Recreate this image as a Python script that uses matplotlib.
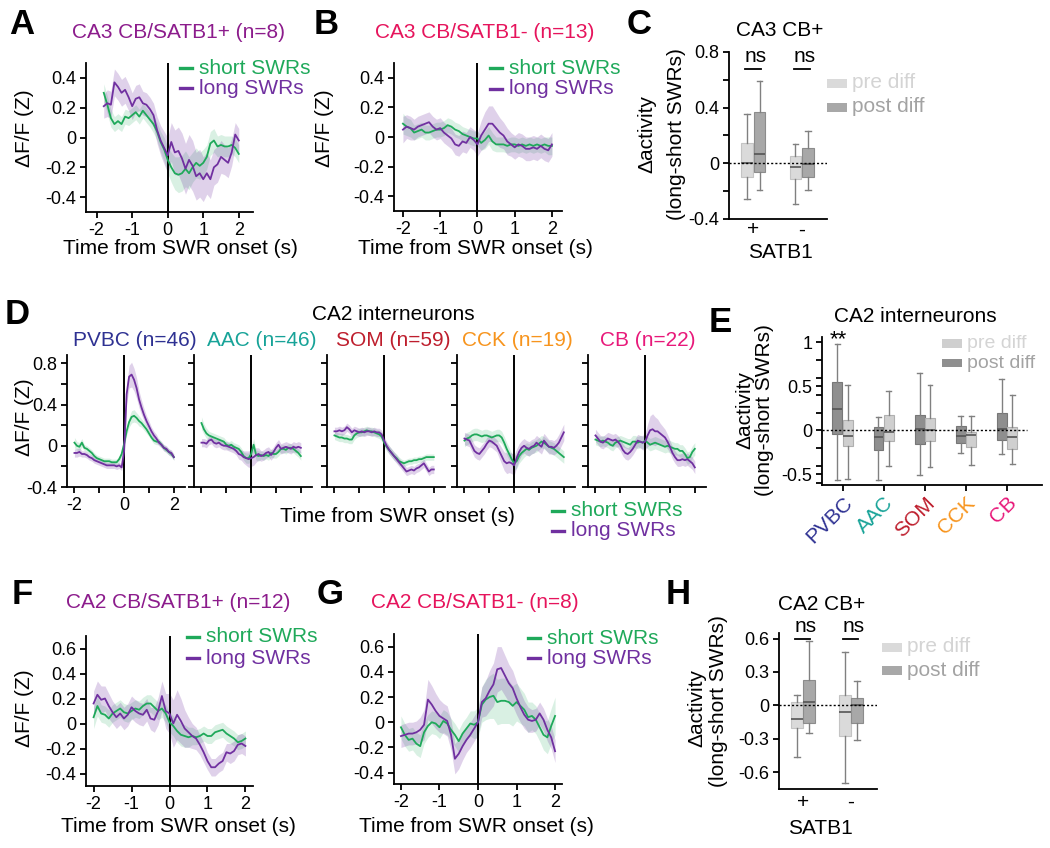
import numpy as np
import matplotlib
matplotlib.use('Agg')
import matplotlib.pyplot as plt
from matplotlib.lines import Line2D
from matplotlib.patches import Rectangle

plt.rcParams['font.family'] = ['Liberation Sans', 'DejaVu Sans']
plt.rcParams['axes.unicode_minus'] = False

GREEN = '#1fa95a'
PURPLE = '#7030a0'
TITLE_PLUS = '#8c1c8c'
TITLE_MINUS = '#e6145c'

# ---------------- data ----------------
tA = np.linspace(-1.8, 2.0, 39)
t41 = np.linspace(-2.0, 2.0, 41)

# A: CA3 CB/SATB1+
A_short = [0.30, 0.22, 0.13, 0.09, 0.11, 0.09, 0.14, 0.13, 0.15, 0.17,
           0.14, 0.18, 0.15, 0.12, 0.09, 0.04, -0.03, -0.08, -0.15, -0.20,
           -0.24, -0.25, -0.24, -0.21, -0.24, -0.20, -0.17, -0.19, -0.17, -0.13,
           -0.04, -0.02, -0.06, -0.05, -0.06, -0.06, -0.05, -0.07, -0.11]
A_long = [0.21, 0.23, 0.22, 0.37, 0.34, 0.30, 0.32, 0.27, 0.21, 0.26,
          0.27, 0.23, 0.22, 0.19, 0.15, 0.05, -0.02, -0.07, -0.12, -0.03,
          -0.10, -0.09, -0.14, -0.21, -0.15, -0.19, -0.26, -0.24, -0.28, -0.24,
          -0.28, -0.20, -0.18, -0.13, -0.15, -0.17, -0.10, 0.02, -0.02]
A_short_sem = [0.06, 0.06, 0.06, 0.05, 0.05, 0.05, 0.05, 0.05, 0.05, 0.05,
               0.05, 0.05, 0.05, 0.05, 0.06, 0.06, 0.07, 0.08, 0.09, 0.10,
               0.11, 0.12, 0.12, 0.12, 0.11, 0.10, 0.10, 0.09, 0.09, 0.08,
               0.08, 0.08, 0.07, 0.07, 0.07, 0.07, 0.06, 0.06, 0.06]
A_long_sem = [0.08, 0.09, 0.09, 0.09, 0.09, 0.09, 0.09, 0.09, 0.09, 0.09,
              0.09, 0.08, 0.08, 0.08, 0.08, 0.09, 0.10, 0.11, 0.12, 0.13,
              0.15, 0.16, 0.17, 0.17, 0.17, 0.17, 0.16, 0.16, 0.15, 0.14,
              0.13, 0.12, 0.12, 0.11, 0.10, 0.10, 0.09, 0.08, 0.08]

# B: CA3 CB/SATB1-
B_short = [0.09, 0.07, 0.06, 0.03, 0.04, 0.05, 0.03, 0.03, 0.04, 0.05,
           0.05, 0.06, 0.08, 0.07, 0.05, 0.04, 0.02, 0.01, 0.00, -0.01,
           -0.01, -0.04, -0.02, 0.01, -0.03, -0.05, -0.05, -0.05, -0.06, -0.05,
           -0.05, -0.06, -0.05, -0.06, -0.05, -0.06, -0.05, -0.06, -0.05, -0.06,
           -0.06]
B_long = [0.05, 0.07, 0.06, 0.05, 0.07, 0.08, 0.09, 0.10, 0.07, 0.05,
          0.06, 0.03, 0.01, -0.01, -0.05, -0.06, -0.03, -0.04, 0.00, -0.02,
          -0.05, 0.01, 0.05, 0.09, 0.09, 0.06, 0.03, 0.01, -0.03, -0.05,
          -0.07, -0.05, -0.06, -0.08, -0.08, -0.07, -0.08, -0.06, -0.08, -0.09,
          -0.05]
B_short_sem = [0.07, 0.06, 0.06, 0.05, 0.05, 0.05, 0.05, 0.05, 0.05, 0.05,
               0.05, 0.05, 0.05, 0.05, 0.05, 0.05, 0.05, 0.05, 0.05, 0.05,
               0.05, 0.05, 0.06, 0.06, 0.06, 0.05, 0.05, 0.05, 0.05, 0.05,
               0.05, 0.05, 0.05, 0.05, 0.05, 0.05, 0.05, 0.05, 0.05, 0.06,
               0.06]
B_long_sem = [0.09, 0.08, 0.08, 0.07, 0.07, 0.07, 0.07, 0.07, 0.07, 0.07,
              0.07, 0.07, 0.07, 0.07, 0.07, 0.07, 0.07, 0.07, 0.07, 0.07,
              0.08, 0.10, 0.12, 0.12, 0.12, 0.11, 0.10, 0.09, 0.09, 0.08,
              0.08, 0.08, 0.08, 0.08, 0.08, 0.08, 0.08, 0.08, 0.08, 0.08,
              0.08]

# C: CA3 CB+ box stats (SATB1 + / -)
C_groups = ['+', '-']
C_pre_med = [0.00, -0.025]
C_pre_q1 = [-0.10, -0.115]
C_pre_q3 = [0.145, 0.055]
C_pre_lo = [-0.255, -0.29]
C_pre_hi = [0.355, 0.14]
C_post_med = [0.065, -0.005]
C_post_q1 = [-0.065, -0.10]
C_post_q3 = [0.37, 0.11]
C_post_lo = [-0.19, -0.19]
C_post_hi = [0.595, 0.23]

# D: CA2 interneuron types
D_names = ['PVBC', 'AAC', 'SOM', 'CCK', 'CB']
D_counts = [46, 46, 59, 19, 22]
D_colors = ['#2e3192', '#17a398', '#be1e2d', '#f7941d', '#e8197a']

PVBC_short = [0.03, 0.00, -0.01, 0.03, -0.02, -0.03, -0.05, -0.07, -0.10, -0.12,
              -0.13, -0.14, -0.15, -0.15, -0.15, -0.16, -0.16, -0.16, -0.13, -0.08,
              0.02, 0.14, 0.23, 0.28, 0.29, 0.27, 0.24, 0.22, 0.19, 0.16,
              0.12, 0.08, 0.05, 0.04, 0.04, 0.01, -0.02, -0.04, -0.06, -0.08,
              -0.11]
PVBC_long = [-0.07, -0.07, -0.06, -0.08, -0.08, -0.09, -0.11, -0.12, -0.14, -0.15,
             -0.16, -0.17, -0.18, -0.19, -0.19, -0.19, -0.19, -0.20, -0.19, -0.21,
             -0.05, 0.50, 0.67, 0.69, 0.64, 0.56, 0.45, 0.37, 0.30, 0.24,
             0.19, 0.14, 0.10, 0.07, 0.03, 0.01, -0.02, -0.03, -0.06, -0.07,
             -0.11]
PVBC_short_sem = [0.05, 0.04, 0.04, 0.04, 0.03, 0.03, 0.03, 0.03, 0.03, 0.03,
                  0.03, 0.03, 0.03, 0.03, 0.03, 0.03, 0.03, 0.03, 0.03, 0.03,
                  0.03, 0.04, 0.05, 0.06, 0.06, 0.05, 0.05, 0.04, 0.04, 0.04,
                  0.03, 0.03, 0.03, 0.03, 0.03, 0.03, 0.03, 0.03, 0.03, 0.03,
                  0.03]
PVBC_long_sem = [0.04, 0.04, 0.04, 0.03, 0.03, 0.03, 0.03, 0.03, 0.03, 0.03,
                 0.03, 0.03, 0.03, 0.03, 0.03, 0.03, 0.03, 0.03, 0.03, 0.03,
                 0.04, 0.09, 0.11, 0.12, 0.11, 0.10, 0.08, 0.07, 0.06, 0.05,
                 0.05, 0.04, 0.04, 0.04, 0.03, 0.03, 0.03, 0.03, 0.03, 0.03,
                 0.03]

AAC_short = [0.22, 0.16, 0.12, 0.10, 0.09, 0.08, 0.07, 0.06, 0.05, 0.04,
             0.01, 0.00, 0.01, -0.01, -0.02, -0.03, -0.06, -0.10, -0.12, -0.12,
             -0.08, 0.01, -0.09, -0.10, -0.09, -0.10, -0.09, -0.10, -0.07, -0.08,
             -0.08, -0.06, -0.03, -0.03, -0.04, -0.02, -0.02, -0.03, -0.05, -0.07,
             -0.10]
AAC_long = [0.03, 0.03, 0.02, 0.05, 0.06, 0.03, 0.02, 0.03, 0.01, 0.00,
            0.00, -0.01, -0.02, -0.03, -0.05, -0.08, -0.09, -0.11, -0.12, -0.13,
            -0.12, -0.11, -0.09, -0.08, -0.10, -0.09, -0.07, -0.06, -0.09, -0.06,
            -0.02, 0.01, -0.03, -0.02, -0.01, -0.02, -0.03, -0.01, -0.02, -0.01,
            -0.02]
AAC_short_sem = [0.06, 0.05, 0.05, 0.04, 0.04, 0.04, 0.04, 0.04, 0.04, 0.04,
                 0.04, 0.04, 0.04, 0.04, 0.04, 0.04, 0.04, 0.04, 0.05, 0.05,
                 0.06, 0.06, 0.05, 0.05, 0.04, 0.04, 0.04, 0.04, 0.04, 0.04,
                 0.04, 0.04, 0.04, 0.04, 0.04, 0.04, 0.04, 0.04, 0.04, 0.04,
                 0.04]
AAC_long_sem = [0.04, 0.04, 0.04, 0.04, 0.04, 0.04, 0.04, 0.04, 0.04, 0.04,
                0.04, 0.04, 0.04, 0.04, 0.04, 0.05, 0.05, 0.06, 0.07, 0.08,
                0.08, 0.08, 0.07, 0.06, 0.05, 0.05, 0.05, 0.05, 0.05, 0.05,
                0.05, 0.05, 0.05, 0.05, 0.05, 0.05, 0.05, 0.05, 0.05, 0.05,
                0.05]

SOM_short = [0.10, 0.09, 0.08, 0.08, 0.07, 0.07, 0.06, 0.06, 0.10, 0.12,
             0.13, 0.13, 0.14, 0.15, 0.14, 0.14, 0.13, 0.12, 0.11, 0.09,
             0.03, -0.01, -0.04, -0.07, -0.10, -0.12, -0.15, -0.16, -0.17, -0.16,
             -0.15, -0.15, -0.14, -0.14, -0.13, -0.13, -0.12, -0.11, -0.11, -0.11,
             -0.11]
SOM_long = [0.14, 0.14, 0.15, 0.14, 0.15, 0.18, 0.16, 0.13, 0.15, 0.14,
            0.13, 0.14, 0.13, 0.14, 0.14, 0.13, 0.14, 0.13, 0.13, 0.11,
            0.05, 0.00, -0.04, -0.07, -0.10, -0.13, -0.16, -0.19, -0.22, -0.25,
            -0.24, -0.23, -0.24, -0.22, -0.21, -0.19, -0.17, -0.21, -0.25, -0.23,
            -0.23]
SOM_short_sem = [0.04, 0.04, 0.04, 0.04, 0.04, 0.04, 0.04, 0.04, 0.04, 0.04,
                 0.04, 0.04, 0.04, 0.04, 0.04, 0.04, 0.04, 0.04, 0.04, 0.04,
                 0.04, 0.04, 0.04, 0.04, 0.04, 0.04, 0.04, 0.03, 0.03, 0.03,
                 0.03, 0.03, 0.03, 0.03, 0.03, 0.03, 0.03, 0.03, 0.03, 0.03,
                 0.03]
SOM_long_sem = [0.04, 0.04, 0.04, 0.04, 0.04, 0.04, 0.04, 0.04, 0.04, 0.04,
                0.04, 0.04, 0.04, 0.04, 0.04, 0.04, 0.04, 0.04, 0.04, 0.04,
                0.04, 0.04, 0.04, 0.04, 0.04, 0.04, 0.04, 0.04, 0.04, 0.04,
                0.04, 0.04, 0.04, 0.04, 0.04, 0.04, 0.04, 0.04, 0.04, 0.04,
                0.04]

CCK_short = [0.05, 0.07, 0.08, 0.10, 0.11, 0.11, 0.10, 0.09, 0.10, 0.10,
             0.09, 0.08, 0.09, 0.10, 0.10, 0.08, 0.03, -0.03, -0.08, -0.13,
             -0.17, -0.15, -0.10, -0.07, -0.05, -0.03, -0.04, -0.02, -0.01, 0.00,
             0.02, 0.04, 0.03, 0.01, -0.01, -0.02, -0.03, -0.05, -0.07, -0.09,
             -0.11]
CCK_long = [0.07, 0.06, 0.05, 0.00, -0.05, -0.07, -0.08, -0.05, -0.02, 0.02,
            0.05, 0.04, 0.02, 0.00, -0.05, -0.10, -0.15, -0.17, -0.16, -0.17,
            -0.19, -0.12, -0.06, -0.02, 0.00, -0.02, -0.03, -0.01, 0.00, 0.03,
            0.01, -0.01, 0.05, 0.02, -0.01, -0.01, -0.02, 0.00, 0.03, 0.08,
            0.13]
CCK_short_sem = [0.06, 0.06, 0.06, 0.06, 0.06, 0.06, 0.06, 0.06, 0.06, 0.06,
                 0.06, 0.06, 0.06, 0.06, 0.06, 0.06, 0.06, 0.06, 0.06, 0.06,
                 0.07, 0.07, 0.07, 0.07, 0.06, 0.06, 0.06, 0.06, 0.06, 0.06,
                 0.06, 0.06, 0.06, 0.06, 0.06, 0.06, 0.06, 0.06, 0.06, 0.06,
                 0.06]
CCK_long_sem = [0.06, 0.06, 0.06, 0.06, 0.06, 0.06, 0.06, 0.06, 0.06, 0.06,
                0.06, 0.06, 0.06, 0.06, 0.07, 0.08, 0.09, 0.10, 0.10, 0.10,
                0.10, 0.09, 0.08, 0.07, 0.07, 0.07, 0.07, 0.07, 0.07, 0.07,
                0.07, 0.07, 0.07, 0.07, 0.07, 0.07, 0.07, 0.07, 0.08, 0.08,
                0.08]

CB_short = [0.06, 0.05, 0.04, 0.05, 0.04, 0.03, 0.01, 0.00, 0.03, 0.04,
            0.05, 0.04, 0.03, 0.02, 0.01, 0.04, 0.04, 0.03, 0.04, 0.03,
            0.05, 0.03, 0.01, 0.02, 0.03, 0.02, 0.01, 0.00, -0.01, 0.00,
            -0.01, -0.02, -0.03, -0.03, -0.05, -0.05, -0.08, -0.12, -0.11, -0.06,
            -0.03]
CB_long = [0.10, 0.07, 0.04, 0.03, 0.05, 0.07, 0.06, 0.05, 0.06, 0.04,
           0.01, -0.04, -0.07, -0.08, -0.06, -0.03, 0.01, 0.05, 0.04, 0.03,
           0.04, 0.10, 0.15, 0.16, 0.14, 0.14, 0.12, 0.10, 0.08, 0.04,
           -0.01, -0.07, -0.11, -0.14, -0.14, -0.13, -0.14, -0.13, -0.15, -0.17,
           -0.21]
CB_short_sem = [0.05, 0.05, 0.05, 0.05, 0.05, 0.05, 0.05, 0.05, 0.05, 0.05,
                0.05, 0.05, 0.05, 0.05, 0.06, 0.06, 0.06, 0.06, 0.06, 0.06,
                0.06, 0.06, 0.06, 0.06, 0.06, 0.06, 0.06, 0.06, 0.06, 0.06,
                0.06, 0.06, 0.06, 0.06, 0.06, 0.06, 0.06, 0.06, 0.06, 0.06,
                0.06]
CB_long_sem = [0.06, 0.06, 0.06, 0.06, 0.06, 0.06, 0.06, 0.06, 0.06, 0.06,
               0.06, 0.06, 0.06, 0.06, 0.06, 0.06, 0.06, 0.06, 0.06, 0.07,
               0.08, 0.11, 0.14, 0.15, 0.14, 0.12, 0.10, 0.09, 0.08, 0.07,
               0.06, 0.06, 0.06, 0.06, 0.06, 0.06, 0.06, 0.06, 0.06, 0.06,
               0.06]

# E: CA2 interneurons box stats (post diff first, pre diff second)
E_post_med = [0.24, -0.07, 0.015, -0.065, 0.015]
E_post_q1 = [-0.04, -0.22, -0.155, -0.143, -0.113]
E_post_q3 = [0.55, 0.035, 0.18, 0.053, 0.196]
E_post_lo = [-0.56, -0.56, -0.51, -0.26, -0.265]
E_post_hi = [0.98, 0.15, 0.65, 0.16, 0.585]
E_pre_med = [-0.065, -0.02, 0.01, -0.053, -0.075]
E_pre_q1 = [-0.18, -0.125, -0.125, -0.19, -0.21]
E_pre_q3 = [0.12, 0.18, 0.14, -0.02, 0.04]
E_pre_lo = [-0.55, -0.40, -0.415, -0.39, -0.38]
E_pre_hi = [0.51, 0.45, 0.51, 0.16, 0.40]

# F: CA2 CB/SATB1+
F_short = [0.05, 0.14, 0.08, 0.07, 0.04, 0.08, 0.10, 0.12, 0.09, 0.08,
           0.10, 0.12, 0.11, 0.14, 0.16, 0.16, 0.13, 0.10, 0.12, 0.08,
           0.01, -0.02, -0.06, -0.09, -0.10, -0.11, -0.10, -0.11, -0.10, -0.08,
           -0.10, -0.10, -0.07, -0.06, -0.05, -0.08, -0.10, -0.12, -0.15, -0.14,
           -0.12]
F_long = [0.16, 0.23, 0.19, 0.20, 0.14, 0.09, 0.05, 0.08, 0.04, 0.07,
          0.13, 0.10, 0.08, 0.07, 0.11, 0.04, 0.03, 0.10, 0.22, 0.10,
          0.08, 0.00, 0.07, 0.02, -0.04, -0.07, -0.10, -0.12, -0.17, -0.23,
          -0.30, -0.35, -0.35, -0.32, -0.30, -0.23, -0.24, -0.22, -0.17, -0.16,
          -0.18]
F_short_sem = [0.09, 0.08, 0.07, 0.07, 0.07, 0.07, 0.07, 0.07, 0.07, 0.07,
               0.07, 0.07, 0.07, 0.07, 0.07, 0.07, 0.07, 0.07, 0.07, 0.07,
               0.08, 0.08, 0.09, 0.09, 0.09, 0.08, 0.07, 0.06, 0.06, 0.06,
               0.06, 0.06, 0.06, 0.06, 0.06, 0.06, 0.06, 0.06, 0.06, 0.06,
               0.06]
F_long_sem = [0.10, 0.11, 0.11, 0.10, 0.10, 0.09, 0.09, 0.09, 0.09, 0.09,
              0.09, 0.09, 0.09, 0.09, 0.09, 0.09, 0.10, 0.11, 0.12, 0.14,
              0.16, 0.19, 0.20, 0.18, 0.15, 0.12, 0.10, 0.09, 0.08, 0.08,
              0.07, 0.07, 0.07, 0.07, 0.07, 0.07, 0.08, 0.08, 0.08, 0.08,
              0.08]

# G: CA2 CB/SATB1-
G_short = [-0.04, -0.10, -0.14, -0.13, -0.17, -0.19, -0.08, -0.03, 0.00, -0.01,
           -0.04, 0.01, -0.01, -0.06, -0.10, -0.15, -0.09, -0.05, -0.01, -0.02,
           0.00, 0.14, 0.18, 0.20, 0.21, 0.16, 0.17, 0.17, 0.16, 0.13,
           0.16, 0.13, 0.10, 0.04, 0.05, 0.02, -0.04, -0.10, -0.12, -0.03,
           0.05]
G_long = [-0.11, -0.10, -0.09, -0.09, -0.08, -0.06, -0.02, 0.18, 0.14, 0.09,
          0.05, 0.03, 0.01, -0.10, -0.29, -0.25, -0.19, -0.14, -0.10, -0.05,
          0.00, 0.16, 0.19, 0.25, 0.30, 0.42, 0.43, 0.37, 0.31, 0.27,
          0.19, 0.12, 0.06, 0.02, 0.01, 0.02, 0.07, 0.02, -0.06, -0.12,
          -0.23]
G_short_sem = [0.09, 0.09, 0.09, 0.09, 0.09, 0.09, 0.09, 0.09, 0.09, 0.09,
               0.09, 0.09, 0.09, 0.09, 0.09, 0.09, 0.09, 0.09, 0.10, 0.11,
               0.12, 0.14, 0.16, 0.17, 0.18, 0.18, 0.18, 0.18, 0.17, 0.16,
               0.15, 0.14, 0.13, 0.12, 0.11, 0.11, 0.11, 0.12, 0.13, 0.14,
               0.15]
G_long_sem = [0.09, 0.09, 0.09, 0.09, 0.09, 0.10, 0.12, 0.16, 0.15, 0.14,
              0.13, 0.12, 0.12, 0.12, 0.12, 0.12, 0.11, 0.10, 0.10, 0.10,
              0.10, 0.12, 0.14, 0.16, 0.17, 0.18, 0.17, 0.16, 0.15, 0.14,
              0.13, 0.12, 0.11, 0.10, 0.09, 0.09, 0.09, 0.09, 0.09, 0.09,
              0.09]

# H: CA2 CB+ box stats (SATB1 + / -)
H_groups = ['+', '-']
H_pre_med = [-0.12, -0.055]
H_pre_q1 = [-0.205, -0.27]
H_pre_q3 = [0.03, 0.09]
H_pre_lo = [-0.46, -0.70]
H_pre_hi = [0.09, 0.48]
H_post_med = [0.034, 0.0]
H_post_q1 = [-0.16, -0.155]
H_post_q3 = [0.23, 0.07]
H_post_lo = [-0.245, -0.31]
H_post_hi = [0.58, 0.22]

# ---------------- helpers ----------------
W, H = 1050, 848
fig = plt.figure(figsize=(W / 100, H / 100), dpi=100)


def px_axes(l, t, r, b):
    return fig.add_axes([l / W, 1 - b / H, (r - l) / W, (b - t) / H])


def ftext(x, y, s, **kw):
    kw.setdefault('ha', 'center')
    kw.setdefault('va', 'center')
    return fig.text(x / W, 1 - y / H, s, **kw)


def style(ax):
    for s in ['top', 'right']:
        ax.spines[s].set_visible(False)
    for s in ['left', 'bottom']:
        ax.spines[s].set_linewidth(1.3)
    ax.tick_params(which='both', direction='out', length=4, width=1.3,
                   labelsize=13, pad=3)


def traces(ax, t, s, s_sem, l, l_sem):
    s, s_sem, l, l_sem = map(np.asarray, (s, s_sem, l, l_sem))
    ax.fill_between(t, s - s_sem, s + s_sem, color=GREEN, alpha=0.17, lw=0)
    ax.fill_between(t, l - l_sem, l + l_sem, color=PURPLE, alpha=0.22, lw=0)
    ax.axvline(0, color='black', lw=1.4, zorder=2)
    ax.plot(t, s, color=GREEN, lw=1.3, zorder=3)
    ax.plot(t, l, color=PURPLE, lw=1.3, zorder=3)


def swr_key(x, y, dy):
    for i, (lab, col) in enumerate([('short SWRs', GREEN), ('long SWRs', PURPLE)]):
        yy = 1 - (y + i * dy) / H
        fig.add_artist(Line2D([x / W, (x + 12) / W], [yy, yy], color=col, lw=2.4))
        fig.text((x + 19) / W, yy, lab, color=col, fontsize=15, ha='left', va='center')


def diff_key(x, y_pre, y_post, light, dark, size=15):
    for yy, lab, face, tcol in [(y_pre, 'pre diff', light, '#d4d4d4'),
                                (y_post, 'post diff', dark, '#a3a3a3')]:
        fig.add_artist(Rectangle((x / W, 1 - (yy + 4.5) / H), 20 / W, 9 / H,
                                 facecolor=face, edgecolor='none'))
        fig.text((x + 25) / W, 1 - yy / H, lab, color=tcol, fontsize=size,
                 ha='left', va='center')


def boxes(ax, pos, med, q1, q3, lo, hi, face, edge, width):
    stats = [dict(med=m, q1=a, q3=b, whislo=c, whishi=d)
             for m, a, b, c, d in zip(med, q1, q3, lo, hi)]
    ax.bxp(stats, positions=pos, widths=width, patch_artist=True,
           showfliers=False, manage_ticks=False,
           boxprops=dict(facecolor=face, edgecolor=edge, lw=0.8),
           whiskerprops=dict(color='#808080', lw=1.0),
           capprops=dict(color='#808080', lw=1.0),
           medianprops=dict(color='#555555', lw=1.2))


def panel_letter(x, y, s):
    ftext(x, y, s, fontsize=25, fontweight='bold', ha='left')


LIGHT_C, DARK_C = '#dadada', '#a8a8a8'
LIGHT_E, DARK_E = '#cfcfcf', '#8f8f8f'

# ---------------- A ----------------
axA = px_axes(86, 63, 253, 212)
traces(axA, tA, A_short, A_short_sem, A_long, A_long_sem)
axA.set_xlim(-2.3, 2.4)
axA.set_ylim(-0.5, 0.5)
axA.set_xticks([-2, -1, 0, 1, 2], ['-2', '-1', '0', '1', '2'])
axA.set_yticks([-0.4, -0.2, 0, 0.2, 0.4], ['-0.4', '-0.2', '0', '0.2', '0.4'])
style(axA)
ftext(178, 33, 'CA3 CB/SATB1+ (n=8)', color=TITLE_PLUS, fontsize=15)
ftext(25, 128, 'ΔF/F (Z)', rotation=90, fontsize=15)
ftext(180, 248, 'Time from SWR onset (s)', fontsize=15)
swr_key(180, 68, 20)
panel_letter(9, 25, 'A')

# ---------------- B ----------------
axB = px_axes(394, 63, 562, 211)
traces(axB, t41, B_short, B_short_sem, B_long, B_long_sem)
axB.set_xlim(-2.24, 2.27)
axB.set_ylim(-0.5, 0.5)
axB.set_xticks([-2, -1, 0, 1, 2], ['-2', '-1', '0', '1', '2'])
axB.set_yticks([-0.4, -0.2, 0, 0.2, 0.4], ['-0.4', '-0.2', '0', '0.2', '0.4'])
style(axB)
ftext(485, 33, 'CA3 CB/SATB1- (n=13)', color=TITLE_MINUS, fontsize=15)
ftext(325, 128, 'ΔF/F (Z)', rotation=90, fontsize=15)
ftext(475, 248, 'Time from SWR onset (s)', fontsize=15)
swr_key(490, 68, 21)
panel_letter(314, 25, 'B')

# ---------------- C ----------------
axC = px_axes(729, 52, 827, 219)
gC = np.arange(1, len(C_groups) + 1)
axC.axhline(0, color='black', lw=1.0, ls=(0, (1.5, 1.5)), zorder=3)
boxes(axC, gC - 0.13, C_pre_med, C_pre_q1, C_pre_q3, C_pre_lo, C_pre_hi,
      LIGHT_C, '#c4c4c4', 0.24)
boxes(axC, gC + 0.13, C_post_med, C_post_q1, C_post_q3, C_post_lo, C_post_hi,
      DARK_C, '#8c8c8c', 0.24)
axC.set_xlim(0.5, 2.52)
axC.set_ylim(-0.4, 0.8)
axC.set_yticks([-0.4, 0, 0.4, 0.8], ['-0.4', '0', '0.4', '0.8'])
axC.set_yticks([-0.2, 0.2, 0.6], minor=True)
axC.set_xticks(gC, C_groups)
style(axC)
axC.tick_params(axis='x', length=0, labelsize=15, pad=1)
for g in gC:
    axC.plot([g - 0.16, g + 0.16], [0.68, 0.68], color='black', lw=1.3, clip_on=False)
    axC.text(g + 0.05, 0.70, 'ns', ha='center', va='bottom', fontsize=15)
ftext(780, 30, 'CA3 CB+', fontsize=15)
ftext(780, 252, 'SATB1', fontsize=15)
ftext(647, 134, 'Δactivity', rotation=90, fontsize=15)
ftext(677, 134, '(long-short SWRs)', rotation=90, fontsize=15)
diff_key(827, 83, 107, LIGHT_C, DARK_C)
panel_letter(627, 25, 'C')

# ---------------- D ----------------
D_short = [PVBC_short, AAC_short, SOM_short, CCK_short, CB_short]
D_long = [PVBC_long, AAC_long, SOM_long, CCK_long, CB_long]
D_short_sem = [PVBC_short_sem, AAC_short_sem, SOM_short_sem, CCK_short_sem, CB_short_sem]
D_long_sem = [PVBC_long_sem, AAC_long_sem, SOM_long_sem, CCK_long_sem, CB_long_sem]
D_left = [67, 194, 327, 457, 588]
D_title_x = [135, 262, 393, 517, 648]
for i in range(len(D_names)):
    ax = px_axes(D_left[i], 355, D_left[i] + 118, 487)
    traces(ax, t41, D_short[i], D_short_sem[i], D_long[i], D_long_sem[i])
    ax.set_xlim(-2.3, 2.45)
    ax.set_ylim(-0.4, 0.88)
    ax.set_xticks([-2, -1, 0, 1, 2], ['-2', '', '0', '', '2'])
    ax.set_yticks([-0.4, 0, 0.4, 0.8], ['-0.4', '0', '0.4', '0.8'])
    ax.set_yticks([-0.2, 0.2, 0.6], minor=True)
    style(ax)
    if i > 0:
        ax.tick_params(labelleft=False, labelbottom=False)
    ftext(D_title_x[i], 340, f'{D_names[i]} (n={D_counts[i]})',
          color=D_colors[i], fontsize=15)
ftext(393, 315, 'CA2 interneurons', fontsize=15)
ftext(25, 417, 'ΔF/F (Z)', rotation=90, fontsize=15)
ftext(397, 517, 'Time from SWR onset (s)', fontsize=15)
swr_key(552, 511, 20)
panel_letter(5, 315, 'D')

# ---------------- E ----------------
axE = px_axes(822, 337, 1042, 485)
gE = np.arange(1, len(D_names) + 1)
axE.axhline(0, color='black', lw=1.0, ls=(0, (1.5, 1.5)), xmax=0.93, zorder=3)
boxes(axE, gE - 0.127, E_post_med, E_post_q1, E_post_q3, E_post_lo, E_post_hi,
      DARK_E, '#777777', 0.24)
boxes(axE, gE + 0.127, E_pre_med, E_pre_q1, E_pre_q3, E_pre_lo, E_pre_hi,
      LIGHT_E, '#b0b0b0', 0.24)
axE.set_xlim(0.5, 5.85)
axE.set_ylim(-0.62, 1.06)
axE.set_yticks([-0.5, 0, 0.5, 1], ['-0.5', '0', '0.5', '1'])
axE.set_yticks([-0.6, -0.4, -0.2, 0.2, 0.4, 0.6, 0.8], minor=True)
axE.set_xticks(gE, D_names)
style(axE)
axE.tick_params(axis='x', labelsize=15, pad=2)
for lab, col in zip(axE.get_xticklabels(), D_colors):
    lab.set_color(col)
    lab.set_rotation(45)
    lab.set_ha('right')
    lab.set_va('top')
    lab.set_rotation_mode('anchor')
ftext(838, 329, '**', fontsize=16, va='top')
ftext(915, 317, 'CA2 interneurons', fontsize=15)
ftext(745, 410, 'Δactivity', rotation=90, fontsize=15)
ftext(765, 410, '(long-short SWRs)', rotation=90, fontsize=15)
diff_key(942, 343, 363, LIGHT_E, DARK_E, size=14)
panel_letter(709, 323, 'E')

# ---------------- F ----------------
axF = px_axes(86, 636, 253, 786)
traces(axF, t41, F_short, F_short_sem, F_long, F_long_sem)
axF.set_xlim(-2.2, 2.2)
axF.set_ylim(-0.5, 0.7)
axF.set_xticks([-2, -1, 0, 1, 2], ['-2', '-1', '0', '1', '2'])
axF.set_yticks([-0.4, -0.2, 0, 0.2, 0.4, 0.6], ['-0.4', '-0.2', '0', '0.2', '0.4', '0.6'])
style(axF)
ftext(178, 602, 'CA2 CB/SATB1+ (n=12)', color=TITLE_PLUS, fontsize=15)
ftext(25, 708, 'ΔF/F (Z)', rotation=90, fontsize=15)
ftext(178, 826, 'Time from SWR onset (s)', fontsize=15)
swr_key(187, 637, 21)
panel_letter(12, 595, 'F')

# ---------------- G ----------------
axG = px_axes(394, 634, 562, 784)
traces(axG, t41, G_short, G_short_sem, G_long, G_long_sem)
axG.set_xlim(-2.18, 2.18)
axG.set_ylim(-0.49, 0.7)
axG.set_xticks([-2, -1, 0, 1, 2], ['-2', '-1', '0', '1', '2'])
axG.set_yticks([-0.4, -0.2, 0, 0.2, 0.4, 0.6], ['-0.4', '-0.2', '0', '0.2', '0.4', '0.6'])
style(axG)
ftext(475, 602, 'CA2 CB/SATB1- (n=8)', color=TITLE_MINUS, fontsize=15)
ftext(476, 826, 'Time from SWR onset (s)', fontsize=15)
swr_key(528, 638, 20)
panel_letter(317, 595, 'G')

# ---------------- H ----------------
axH = px_axes(779, 633, 877, 789)
gH = np.arange(1, len(H_groups) + 1)
axH.axhline(0, color='black', lw=1.0, ls=(0, (1.5, 1.5)), zorder=3)
boxes(axH, gH - 0.125, H_pre_med, H_pre_q1, H_pre_q3, H_pre_lo, H_pre_hi,
      LIGHT_C, '#c4c4c4', 0.24)
boxes(axH, gH + 0.125, H_post_med, H_post_q1, H_post_q3, H_post_lo, H_post_hi,
      DARK_C, '#8c8c8c', 0.24)
axH.set_xlim(0.5, 2.54)
axH.set_ylim(-0.75, 0.65)
axH.set_yticks([-0.6, -0.3, 0, 0.3, 0.6], ['-0.6', '-0.3', '0', '0.3', '0.6'])
axH.set_xticks(gH, H_groups)
style(axH)
axH.tick_params(axis='x', length=0, labelsize=15, pad=3)
for g in gH:
    axH.plot([g - 0.17, g + 0.15], [0.6, 0.6], color='black', lw=1.3, clip_on=False)
    axH.text(g + 0.06, 0.62, 'ns', ha='center', va='bottom', fontsize=15)
ftext(822, 605, 'CA2 CB+', fontsize=15)
ftext(820, 828, 'SATB1', fontsize=15)
ftext(697, 708, 'Δactivity', rotation=90, fontsize=15)
ftext(718, 701, '(long-short SWRs)', rotation=90, fontsize=15)
diff_key(882, 647, 670, LIGHT_C, DARK_C)
panel_letter(666, 595, 'H')

fig.savefig('out.png', dpi=100)
